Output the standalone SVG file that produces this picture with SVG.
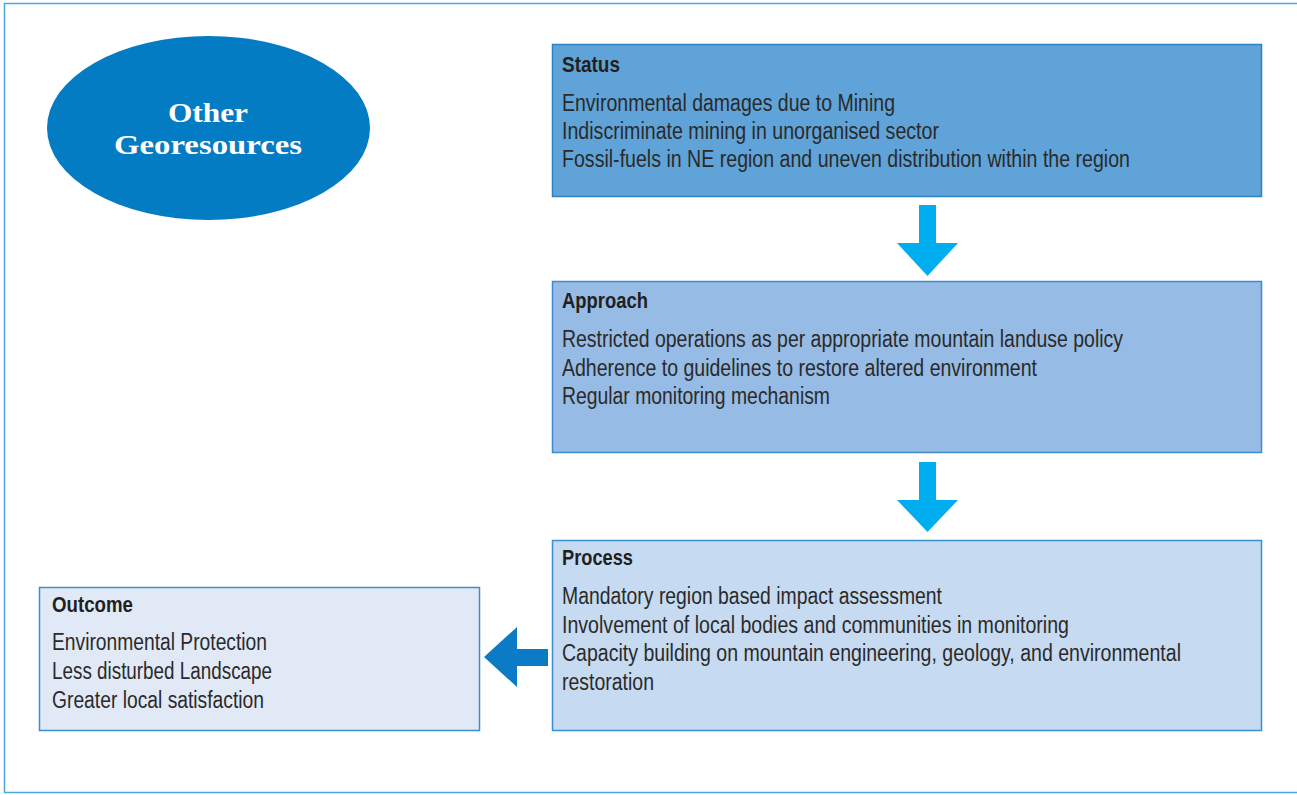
<svg xmlns="http://www.w3.org/2000/svg" width="1297" height="795" viewBox="0 0 1297 795">
<style>
.t{font-family:"Liberation Sans Narrow","Liberation Sans",Arial,sans-serif;font-size:23px;fill:#2b2a2b}
.h{font-family:"Liberation Sans Narrow","Liberation Sans",Arial,sans-serif;font-size:22px;font-weight:bold;fill:#231f20}
.e{font-family:"Liberation Serif","DejaVu Serif",serif;font-size:28px;font-weight:bold;fill:#ffffff}
.box{stroke-width:1.5}
</style>
<rect x="4.5" y="3.5" width="1300" height="789" fill="#ffffff" stroke="#4aa8de" stroke-width="1.5"/>
<g id="node-georesources">
<ellipse cx="208.5" cy="128" rx="161.5" ry="92" fill="#037cc4"/>
<text class="e" x="168" y="122" textLength="80" lengthAdjust="spacingAndGlyphs">Other</text>
<text class="e" x="114" y="154" textLength="188" lengthAdjust="spacingAndGlyphs">Georesources</text>
</g>
<g id="node-status">
<rect class="box" x="552.5" y="44.5" width="709" height="152" fill="#5fa3d8" stroke="#2b82c4"/>
<text class="h" x="562" y="72" textLength="58" lengthAdjust="spacingAndGlyphs">Status</text>
<text class="t" x="562" y="111" textLength="333" lengthAdjust="spacingAndGlyphs">Environmental damages due to Mining</text>
<text class="t" x="562" y="139" textLength="377" lengthAdjust="spacingAndGlyphs">Indiscriminate mining in unorganised sector</text>
<text class="t" x="562" y="167" textLength="568" lengthAdjust="spacingAndGlyphs">Fossil-fuels in NE region and uneven distribution within the region</text>
</g>
<g id="node-approach">
<rect class="box" x="552.5" y="281.5" width="709" height="171" fill="#96bbe4" stroke="#3a8ccc"/>
<text class="h" x="562" y="308" textLength="86" lengthAdjust="spacingAndGlyphs">Approach</text>
<text class="t" x="562" y="347" textLength="561" lengthAdjust="spacingAndGlyphs">Restricted operations as per appropriate mountain landuse policy</text>
<text class="t" x="562" y="376" textLength="475" lengthAdjust="spacingAndGlyphs">Adherence to guidelines to restore altered environment</text>
<text class="t" x="562" y="404" textLength="268" lengthAdjust="spacingAndGlyphs">Regular monitoring mechanism</text>
</g>
<g id="node-process">
<rect class="box" x="552.5" y="540.5" width="709" height="190" fill="#c6daf1" stroke="#3a8fd0"/>
<text class="h" x="562" y="565" textLength="71" lengthAdjust="spacingAndGlyphs">Process</text>
<text class="t" x="562" y="604" textLength="380" lengthAdjust="spacingAndGlyphs">Mandatory region based impact assessment</text>
<text class="t" x="562" y="633" textLength="507" lengthAdjust="spacingAndGlyphs">Involvement of local bodies and communities in monitoring</text>
<text class="t" x="562" y="661" textLength="619" lengthAdjust="spacingAndGlyphs">Capacity building on mountain engineering, geology, and environmental</text>
<text class="t" x="562" y="690" textLength="92" lengthAdjust="spacingAndGlyphs">restoration</text>
</g>
<g id="node-outcome">
<rect class="box" x="39.5" y="587.5" width="440" height="143" fill="#e1e9f6" stroke="#3a8fd0"/>
<text class="h" x="52" y="612" textLength="81" lengthAdjust="spacingAndGlyphs">Outcome</text>
<text class="t" x="52" y="650" textLength="215" lengthAdjust="spacingAndGlyphs">Environmental Protection</text>
<text class="t" x="52" y="679" textLength="220" lengthAdjust="spacingAndGlyphs">Less disturbed Landscape</text>
<text class="t" x="52" y="708" textLength="212" lengthAdjust="spacingAndGlyphs">Greater local satisfaction</text>
</g>
<g id="connectors">
<polygon points="919,205 936,205 936,243 958,243 927.5,276 897,243 919,243" fill="#00aeef"/>
<polygon points="919,462 936,462 936,500 958,500 927.5,532 897,500 919,500" fill="#00aeef"/>
<polygon points="548,649 548,666 517,666 517,687 484,657 517,627 517,649" fill="#0a7bc4"/>
</g>
</svg>
